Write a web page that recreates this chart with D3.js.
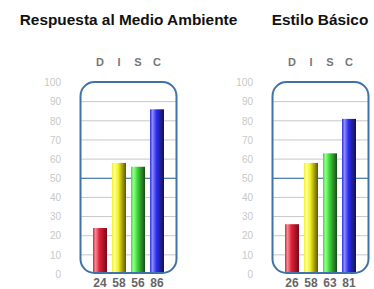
<!DOCTYPE html>
<html>
<head>
<meta charset="utf-8">
<script src="https://cdn.jsdelivr.net/npm/d3@7"></script>
<style>
  body { margin: 0; background: #fff; }
  svg { display: block; font-family: "Liberation Sans", Arial, sans-serif; }
</style>
</head>
<body>
<svg id="chart" width="374" height="289"></svg>
<script>
// DISC profile charts
const categories = ["D", "I", "S", "C"];
const titles = ["Respuesta al Medio Ambiente", "Estilo Básico"];
const valuesEnvironment = [24, 58, 56, 86];
const valuesBasic = [26, 58, 63, 81];
const yTicks = [0, 10, 20, 30, 40, 50, 60, 70, 80, 90, 100];

// light edge, body, dark edge of each cylinder
const barColors = [
  ["#f58a96", "#e0223a", "#7a0816"],
  ["#ffff96", "#f2f01e", "#5a560c"],
  ["#96ff8c", "#3ed83a", "#1c4a18"],
  ["#8c8cff", "#2e2ef0", "#12124e"]
];

const svg = d3.select("#chart");
const defs = svg.append("defs");

barColors.forEach(function(c, i){
    let g = defs.append("linearGradient").attr("id", "bar" + i)
        .attr("x1", "0%").attr("x2", "100%").attr("y1", "0%").attr("y2", "0%");
    g.append("stop").attr("offset", "0%").attr("stop-color", c[1]);
    g.append("stop").attr("offset", "18%").attr("stop-color", c[0]);
    g.append("stop").attr("offset", "45%").attr("stop-color", c[1]);
    g.append("stop").attr("offset", "100%").attr("stop-color", c[2]);
});

let y = d3.scaleLinear().domain([0, 100]).range([274, 82.5]);

function drawPanel(offset, title, titleX, values){
    let panel = svg.append("g").attr("transform", "translate(" + offset + ",0)");

    let x = d3.scaleBand().domain(categories)
        .range([90.5, 166.5]).paddingInner(5 / 19).paddingOuter(5 / 38);

    svg.append("text")
        .attr("x", titleX).attr("y", 25)
        .attr("text-anchor", "middle")
        .attr("font-size", 15.4).attr("font-weight", "bold").attr("fill", "#111")
        .text(title);

    // letters above the frame
    panel.selectAll(".letter").data(categories).enter().append("text")
        .attr("x", d => x(d) + x.bandwidth() / 2).attr("y", 66)
        .attr("text-anchor", "middle")
        .attr("font-size", 11).attr("font-weight", "bold").attr("fill", "#777")
        .text(d => d);

    // y axis labels only
    let yAxis = d3.axisLeft(y).tickValues(yTicks).tickSize(0).tickPadding(0);
    let ax = panel.append("g").attr("transform", "translate(61,0)").call(yAxis);
    ax.select(".domain").remove();
    ax.selectAll("text").attr("font-size", 10).attr("fill", "#c8c8c8")
        .attr("font-family", "Liberation Sans, Arial, sans-serif");

    // gridlines
    panel.selectAll(".grid").data(yTicks.filter(t => t > 0 && t < 100 && t != 50)).enter()
        .append("line")
        .attr("x1", 81).attr("x2", 176)
        .attr("y1", d => y(d)).attr("y2", d => y(d))
        .attr("stroke", "#c8c8c8").attr("stroke-width", 1);

    panel.append("line")
        .attr("x1", 81).attr("x2", 176)
        .attr("y1", y(50)).attr("y2", y(50))
        .attr("stroke", "#1d5a96").attr("stroke-width", 1.2);

    panel.selectAll(".bar").data(values).enter().append("rect")
        .attr("x", (d, i) => x(categories[i]))
        .attr("width", x.bandwidth())
        .attr("y", d => y(d))
        .attr("height", d => y(0) - y(d) - 1.5)
        .attr("fill", (d, i) => "url(#bar" + i + ")");

    // rounded frame
    panel.append("rect")
        .attr("x", 80.5).attr("y", 82).attr("width", 96).attr("height", 191)
        .attr("rx", 14).attr("ry", 14)
        .attr("fill", "none").attr("stroke", "#3f72a8").attr("stroke-width", 2);

    panel.selectAll(".val").data(values).enter().append("text")
        .attr("x", (d, i) => x(categories[i]) + x.bandwidth() / 2).attr("y", 286.5)
        .attr("text-anchor", "middle")
        .attr("font-size", 12).attr("font-weight", "bold").attr("fill", "#666")
        .text(d => d);
}

drawPanel(0, titles[0], 128.5, valuesEnvironment);
drawPanel(192, titles[1], 320, valuesBasic);
</script>
</body>
</html>
